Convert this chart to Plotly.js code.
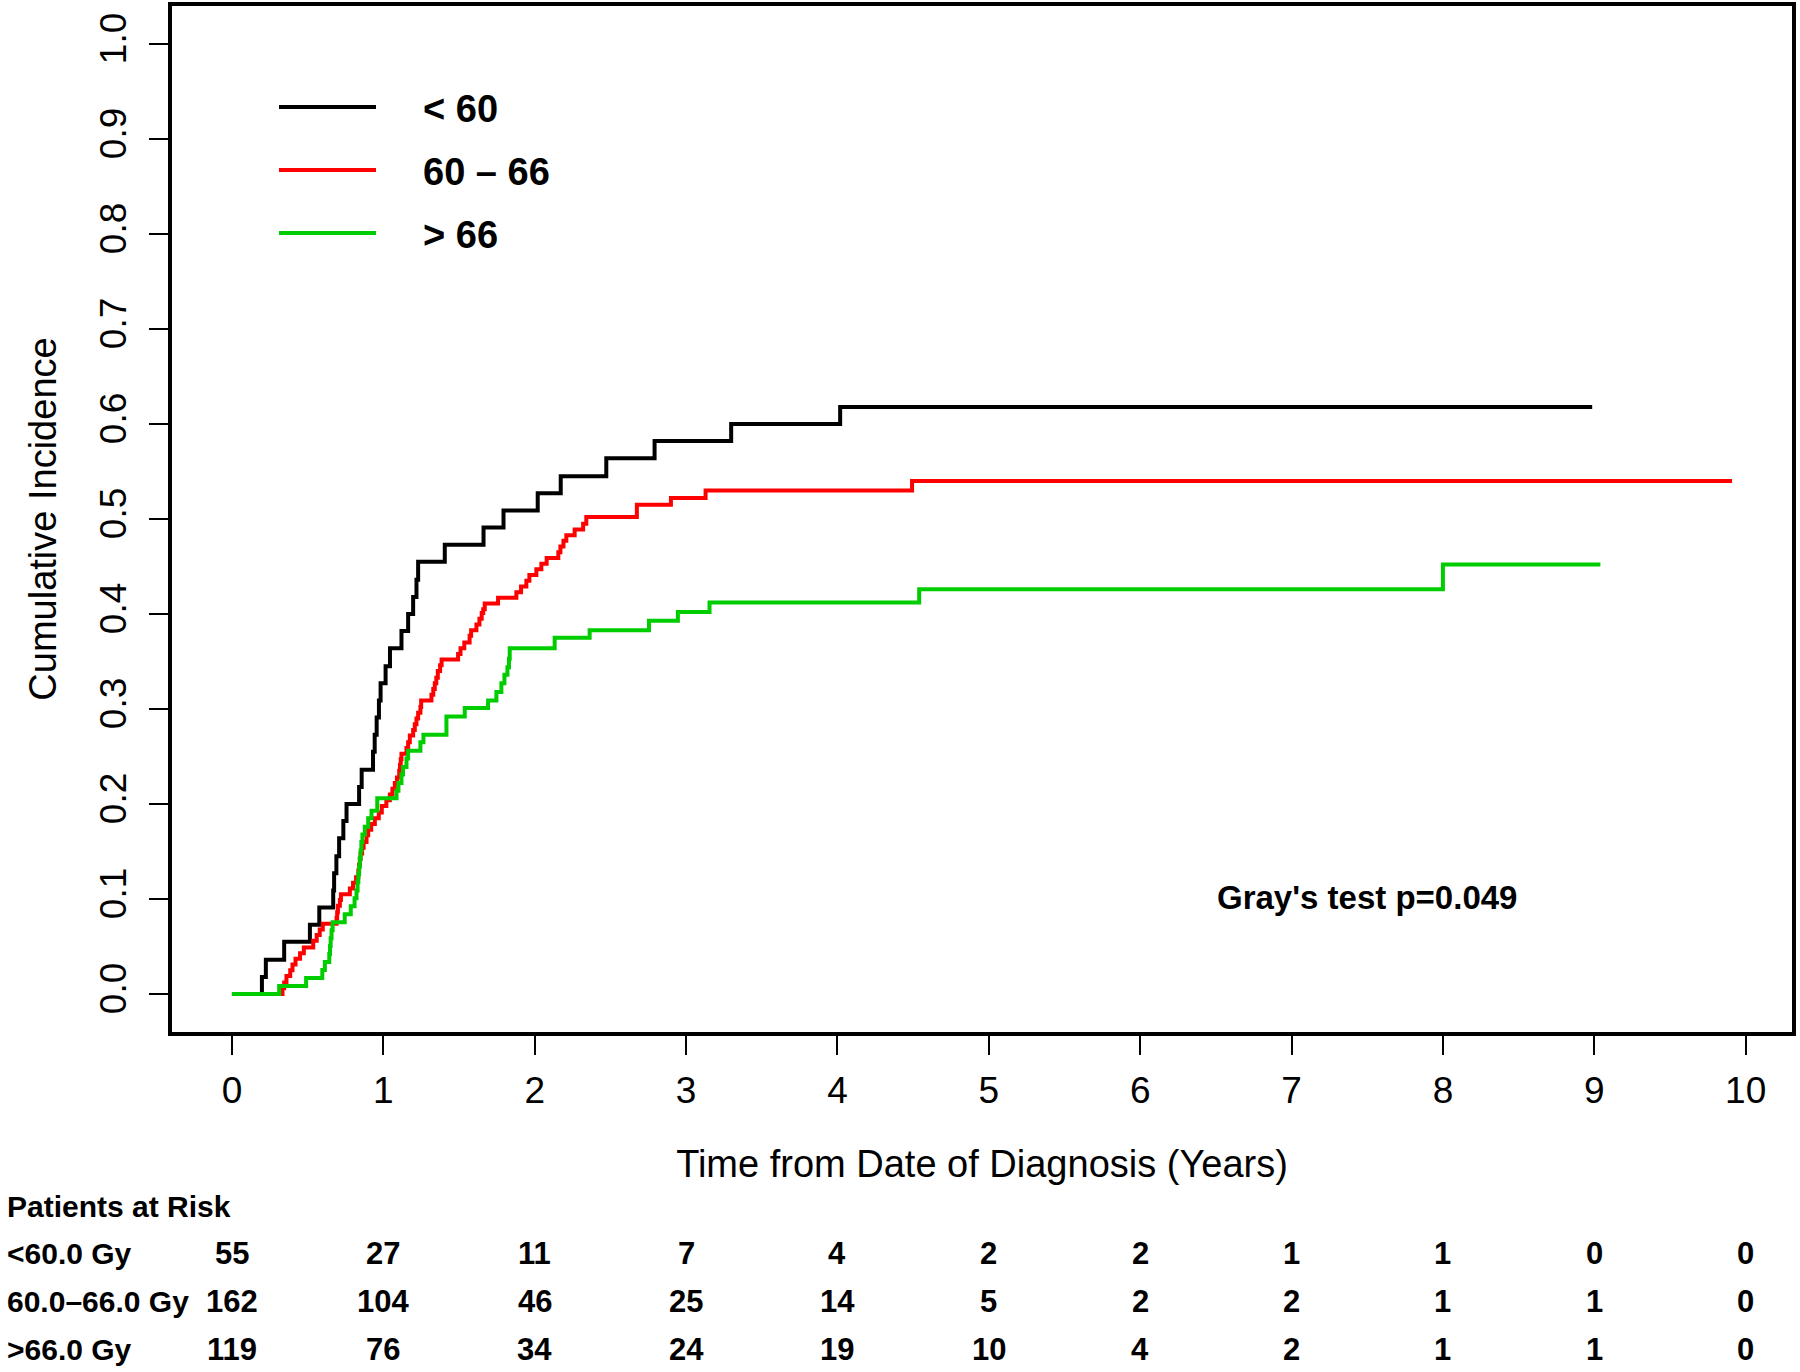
<!DOCTYPE html>
<html>
<head>
<meta charset="utf-8">
<script src="https://cdn.plot.ly/plotly-3.0.1.min.js"></script>
<style>
html, body { margin: 0; padding: 0; background: #ffffff; }
#chart { width: 1800px; height: 1372px; }
</style>
</head>
<body>
<div id="chart"></div>
<script>
// ---------------- DATA ----------------
const seriesNames  = ['< 60', '60 \u2013 66', '> 66'];
const seriesColors = ['#000000', '#FF0000', '#00CD00'];

// < 60 Gy
const time_lt60 = [0, 0.198, 0.224, 0.345, 0.515, 0.577, 0.669, 0.675, 0.69, 0.708, 0.736, 0.757, 0.84, 0.857,
  0.932, 0.943, 0.956, 0.971, 0.982, 1.015, 1.044, 1.12, 1.164, 1.197, 1.219, 1.23, 1.406, 1.662, 1.794, 2.02,
  2.172, 2.473, 2.792, 3.298, 4.018, 8.986];
const cif_lt60 = [0, 0.018, 0.036, 0.055, 0.073, 0.091, 0.109, 0.127, 0.145, 0.164, 0.182, 0.2, 0.218, 0.236,
  0.255, 0.273, 0.291, 0.309, 0.327, 0.345, 0.364, 0.382, 0.4, 0.418, 0.436, 0.455, 0.473, 0.491, 0.509, 0.527,
  0.545, 0.564, 0.582, 0.6, 0.618, 0.618];

// 60 - 66 Gy
const time_6066 = [0, 0.334, 0.345, 0.36, 0.385, 0.40, 0.42, 0.45, 0.475, 0.537,
  0.56, 0.58, 0.60, 0.691, 0.695, 0.70, 0.713, 0.72, 0.779, 0.80,
  0.82, 0.835, 0.84, 0.845, 0.85, 0.86, 0.87, 0.889, 0.90, 0.92,
  0.944, 0.97, 0.99, 1.02, 1.043, 1.06, 1.076, 1.09, 1.105, 1.11,
  1.115, 1.12, 1.153, 1.164, 1.175, 1.197, 1.208, 1.219, 1.23, 1.245,
  1.25, 1.318, 1.33, 1.34, 1.35, 1.36, 1.375, 1.385, 1.494, 1.51,
  1.535, 1.57, 1.58, 1.615, 1.635, 1.65, 1.66, 1.67, 1.758, 1.879,
  1.91, 1.945, 1.965, 2.011, 2.044, 2.079, 2.156, 2.17, 2.19, 2.209,
  2.264, 2.32, 2.341, 2.675, 2.9, 3.129, 4.493, 9.91];
const cif_6066 = [0, 0.006, 0.012, 0.019, 0.025, 0.031, 0.037, 0.043, 0.049, 0.056,
  0.062, 0.068, 0.074, 0.080, 0.086, 0.093, 0.099, 0.105, 0.111, 0.117,
  0.123, 0.130, 0.136, 0.142, 0.148, 0.154, 0.160, 0.167, 0.173, 0.179,
  0.185, 0.191, 0.198, 0.204, 0.210, 0.216, 0.222, 0.228, 0.235, 0.241,
  0.247, 0.253, 0.259, 0.265, 0.272, 0.278, 0.284, 0.290, 0.296, 0.302,
  0.309, 0.315, 0.321, 0.327, 0.333, 0.340, 0.346, 0.352, 0.358, 0.364,
  0.370, 0.377, 0.383, 0.389, 0.395, 0.401, 0.405, 0.411, 0.417, 0.423,
  0.429, 0.435, 0.441, 0.447, 0.453, 0.459, 0.465, 0.471, 0.477, 0.483,
  0.489, 0.495, 0.502, 0.515, 0.522, 0.530, 0.540, 0.540];

// > 66 Gy
const time_gt66 = [0, 0.312, 0.49, 0.597, 0.614, 0.643, 0.648, 0.652, 0.658, 0.665,
  0.745, 0.785, 0.81, 0.823, 0.83, 0.835, 0.84, 0.845, 0.85, 0.855,
  0.862, 0.878, 0.90, 0.922, 0.96, 1.087, 1.10, 1.12, 1.13, 1.153,
  1.164, 1.245, 1.265, 1.417, 1.538, 1.692, 1.747, 1.78, 1.80, 1.82,
  1.83, 1.835, 2.132, 2.363, 2.755, 2.946, 3.155, 4.54, 8.0, 9.04];
const cif_gt66 = [0, 0.0084, 0.0168, 0.0252, 0.0336, 0.042, 0.0504, 0.0588, 0.0672, 0.0756,
  0.084, 0.0924, 0.1008, 0.109, 0.118, 0.126, 0.134, 0.143, 0.151, 0.160,
  0.168, 0.176, 0.185, 0.193, 0.206, 0.214, 0.222, 0.231, 0.239, 0.248,
  0.256, 0.265, 0.273, 0.292, 0.301, 0.309, 0.318, 0.327, 0.336, 0.344,
  0.353, 0.364, 0.375, 0.383, 0.393, 0.402, 0.412, 0.426, 0.452, 0.452];

// Tick labels
const xTickVals = [0, 1, 2, 3, 4, 5, 6, 7, 8, 9, 10];
const yTickVals = [0, 0.1, 0.2, 0.3, 0.4, 0.5, 0.6, 0.7, 0.8, 0.9, 1.0];
const yTickText = ['0.0', '0.1', '0.2', '0.3', '0.4', '0.5', '0.6', '0.7', '0.8', '0.9', '1.0'];

// Patients at risk table
const riskTitle = 'Patients at Risk';
const riskRowLabels = ['<60.0 Gy', '60.0\u201366.0 Gy', '>66.0 Gy'];
const risk_lt60 = [55, 27, 11, 7, 4, 2, 2, 1, 1, 0, 0];
const risk_6066 = [162, 104, 46, 25, 14, 5, 2, 2, 1, 1, 0];
const risk_gt66 = [119, 76, 34, 24, 19, 10, 4, 2, 1, 1, 0];

const testText = "Gray's test p=0.049";
const xTitle = 'Time from Date of Diagnosis (Years)';
const yTitle = 'Cumulative Incidence';

// ---------------- LAYOUT ----------------
const W = 1800, H = 1372;
const M = { l: 172, r: 8, t: 6, b: 340 };
const PW = W - M.l - M.r, PH = H - M.t - M.b;
const px = x => (x - M.l) / PW;          // pixel -> paper x
const py = y => (H - M.b - y) / PH;      // pixel -> paper y
const FONT = 'Liberation Sans, Arial, Helvetica, sans-serif';
const LW = 4;

const times = [time_lt60, time_6066, time_gt66];
const cifs = [cif_lt60, cif_6066, cif_gt66];
const risks = [risk_lt60, risk_6066, risk_gt66];

const traces = times.map((t, i) => ({
  type: 'scatter', mode: 'lines', name: seriesNames[i],
  x: t, y: cifs[i],
  line: { shape: 'hv', color: seriesColors[i], width: LW },
  showlegend: false, hoverinfo: 'skip'
}));

const shapes = [];
const annotations = [];

// manual legend
const legendRowsPx = [107, 170, 233];
seriesNames.forEach((n, i) => {
  shapes.push({ type: 'line', xref: 'paper', yref: 'paper',
    x0: px(279), x1: px(376), y0: py(legendRowsPx[i]), y1: py(legendRowsPx[i]),
    line: { color: seriesColors[i], width: LW } });
  annotations.push({ xref: 'paper', yref: 'paper', x: px(421), y: py(legendRowsPx[i] + 2),
    xanchor: 'left', yanchor: 'middle', showarrow: false, text: '<b>' + n + '</b>',
    font: { family: FONT, size: 38, color: '#000' } });
});

// Gray's test
annotations.push({ xref: 'x', yref: 'y', x: 7.5, y: 0.102, xanchor: 'center', yanchor: 'middle',
  showarrow: false, text: '<b>' + testText + '</b>', font: { family: FONT, size: 33, color: '#000' } });

// risk table
const TS = 30;
annotations.push({ xref: 'paper', yref: 'paper', x: px(5), y: py(1206), xanchor: 'left', yanchor: 'middle',
  showarrow: false, text: '<b>' + riskTitle + '</b>', font: { family: FONT, size: TS, color: '#000' } });
const rowPx = [1253, 1301, 1349];
riskRowLabels.forEach((lab, r) => {
  annotations.push({ xref: 'paper', yref: 'paper', x: px(5), y: py(rowPx[r]), xanchor: 'left', yanchor: 'middle',
    showarrow: false, text: '<b>' + lab + '</b>', font: { family: FONT, size: TS, color: '#000' } });
  risks[r].forEach((v, k) => {
    annotations.push({ xref: 'x', yref: 'paper', x: xTickVals[k], y: py(rowPx[r]), xanchor: 'center', yanchor: 'middle',
      showarrow: false, text: '<b>' + v + '</b>', font: { family: FONT, size: 31, color: '#000' } });
  });
});

const layout = {
  width: W, height: H,
  margin: M,
  paper_bgcolor: '#ffffff', plot_bgcolor: '#ffffff',
  font: { family: FONT, color: '#000' },
  showlegend: false,
  xaxis: {
    range: [-0.396, 10.306], tickmode: 'array', tickvals: xTickVals,
    ticks: 'outside', ticklen: 19, tickwidth: 2, tickcolor: '#000',
    showline: true, mirror: true, linewidth: 4, linecolor: '#000',
    showgrid: false, zeroline: false,
    tickfont: { family: FONT, size: 37, color: '#000' },
    ticklabelstandoff: 4,
    title: { text: xTitle, font: { family: FONT, size: 38, color: '#000' }, standoff: 41 }
  },
  yaxis: {
    range: [-0.04, 1.04], tickmode: 'array', tickvals: yTickVals, ticktext: yTickText,
    ticks: 'outside', ticklen: 19, tickwidth: 2, tickcolor: '#000', tickangle: -90,
    showline: true, mirror: true, linewidth: 4, linecolor: '#000',
    showgrid: false, zeroline: false,
    tickfont: { family: FONT, size: 37, color: '#000' },
    ticklabelstandoff: 8,
    title: { text: yTitle, font: { family: FONT, size: 38, color: '#000' }, standoff: 26 }
  },
  shapes: shapes,
  annotations: annotations
};

Plotly.newPlot('chart', traces, layout, { displayModeBar: false, responsive: false });
</script>
</body>
</html>
